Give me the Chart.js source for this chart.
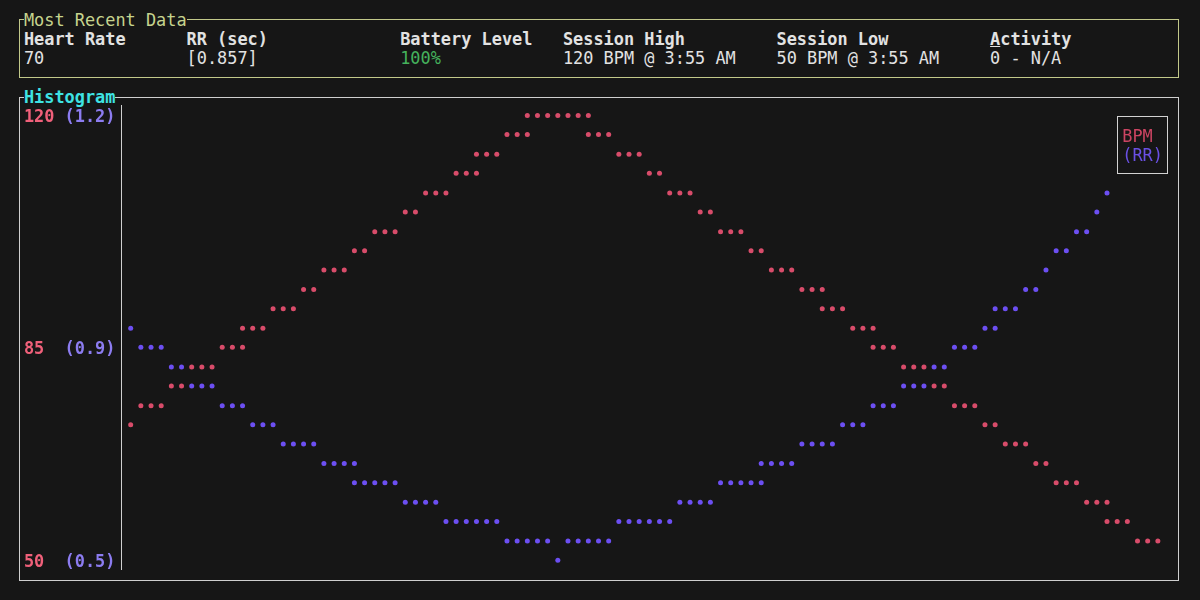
<!DOCTYPE html>
<html>
<head>
<meta charset="utf-8">
<script src="https://cdn.jsdelivr.net/npm/chart.js@4.4.1/dist/chart.umd.min.js"></script>
<style>
html,body{margin:0;padding:0;background:#161616;}
body{width:1200px;height:600px;position:relative;overflow:hidden;font-family:"DejaVu Sans Mono",monospace;font-size:16.9px;color:#e2e2e2;}
.t{position:absolute;line-height:19.33px;height:19.33px;white-space:pre;}
.b{font-weight:bold;}
.box{position:absolute;box-sizing:border-box;}
#topbox{left:19px;top:19px;width:1160px;height:59px;border:1px solid #c2c98a;}
#histbox{left:19px;top:97px;width:1160px;height:484px;border:1px solid #cfcfcf;}
#chart{position:absolute;left:0;top:0;}
#legend{position:absolute;box-sizing:border-box;border:1px solid #d2d2d2;}
</style>
</head>
<body>
<div class="box" id="topbox"></div>
<div class="box" id="histbox"></div>
<div class="t" style="left:23.9px;top:10.7px;color:#c6d48e;background:#161616;">Most Recent Data</div>
<div class="t b" style="left:23.9px;top:88.1px;color:#3ee3e3;background:#161616;">Histogram</div>

<div class="t b" style="left:23.9px;top:30.1px;">Heart Rate</div>
<div class="t b" style="left:186.6px;top:30.1px;">RR (sec)</div>
<div class="t b" style="left:400.2px;top:30.1px;">Battery Level</div>
<div class="t b" style="left:562.9px;top:30.1px;">Session High</div>
<div class="t b" style="left:776.5px;top:30.1px;">Session Low</div>
<div class="t b" style="left:990.1px;top:30.1px;"><u>A</u>ctivity</div>

<div class="t" style="left:23.9px;top:49.4px;">70</div>
<div class="t" style="left:186.6px;top:49.4px;">[0.857]</div>
<div class="t" style="left:400.2px;top:49.4px;color:#45b25c;">100%</div>
<div class="t" style="left:562.9px;top:49.4px;">120 BPM @ 3:55 AM</div>
<div class="t" style="left:776.5px;top:49.4px;">50 BPM @ 3:55 AM</div>
<div class="t" style="left:990.1px;top:49.4px;">0 - N/A</div>

<canvas id="chart" width="1200" height="600"></canvas>
<div id="legend"></div>

<script>
// ---- data (sample index, value) ----
const seriesNames = ["BPM", "(RR)"];

const bpmIndex = [
  0,
  1, 2, 3,
  4, 5,
  6, 7, 8,
  9, 10, 11,
  11, 12, 13,
  14, 15, 16,
  17, 18,
  19, 20, 21,
  22, 23,
  24, 25, 26,
  27, 28,
  29, 30, 31,
  32, 33, 34,
  34, 35, 36,
  37, 38, 39,
  39, 40, 41, 42, 43, 44, 45,
  45, 46, 47,
  48, 49, 50,
  51, 52,
  53, 54, 55,
  56, 57,
  58, 59, 60,
  61, 62,
  63, 64, 65,
  66, 67, 68,
  68, 69, 70,
  71, 72, 73,
  73, 74, 75,
  76, 77, 78,
  79, 80,
  81, 82, 83,
  84, 85,
  86, 87, 88,
  89, 90,
  91, 92, 93,
  94, 95, 96,
  96, 97, 98,
  99, 100, 101
];
const bpmValues = [
  71.3,
  74.3, 74.3, 74.3,
  77.4, 77.4,
  80.4, 80.4, 80.4,
  83.5, 83.5, 83.5,
  86.5, 86.5, 86.5,
  89.6, 89.6, 89.6,
  92.6, 92.6,
  95.7, 95.7, 95.7,
  98.7, 98.7,
  101.7, 101.7, 101.7,
  104.8, 104.8,
  107.8, 107.8, 107.8,
  110.9, 110.9, 110.9,
  113.9, 113.9, 113.9,
  117.0, 117.0, 117.0,
  120, 120, 120, 120, 120, 120, 120,
  117.0, 117.0, 117.0,
  113.9, 113.9, 113.9,
  110.9, 110.9,
  107.8, 107.8, 107.8,
  104.8, 104.8,
  101.7, 101.7, 101.7,
  98.7, 98.7,
  95.7, 95.7, 95.7,
  92.6, 92.6, 92.6,
  89.6, 89.6, 89.6,
  86.5, 86.5, 86.5,
  83.5, 83.5, 83.5,
  80.4, 80.4, 80.4,
  77.4, 77.4,
  74.3, 74.3, 74.3,
  71.3, 71.3,
  68.3, 68.3, 68.3,
  65.2, 65.2,
  62.2, 62.2, 62.2,
  59.1, 59.1, 59.1,
  56.1, 56.1, 56.1,
  53.0, 53.0, 53.0
];

const rrIndex = [
  0,
  1, 2, 3,
  4, 5,
  6, 7, 8,
  9, 10, 11,
  12, 13, 14,
  15, 16, 17, 18,
  19, 20, 21, 22,
  22, 23, 24, 25, 26,
  27, 28, 29, 30,
  31, 32, 33, 34, 35, 36,
  37, 38, 39, 40, 41,
  42,
  43, 44, 45, 46, 47,
  48, 49, 50, 51, 52, 53,
  54, 55, 56, 57,
  58, 59, 60, 61, 62,
  62, 63, 64, 65,
  66, 67, 68, 69,
  70, 71, 72,
  73, 74, 75,
  76, 77, 78,
  79, 80,
  81, 82, 83,
  84, 85,
  85, 86, 87,
  88, 89,
  90,
  91, 92,
  93, 94,
  95,
  96
];
const rrValues = [
  0.865,
  0.835, 0.835, 0.835,
  0.804, 0.804,
  0.774, 0.774, 0.774,
  0.743, 0.743, 0.743,
  0.713, 0.713, 0.713,
  0.683, 0.683, 0.683, 0.683,
  0.652, 0.652, 0.652, 0.652,
  0.622, 0.622, 0.622, 0.622, 0.622,
  0.591, 0.591, 0.591, 0.591,
  0.561, 0.561, 0.561, 0.561, 0.561, 0.561,
  0.530, 0.530, 0.530, 0.530, 0.530,
  0.500,
  0.530, 0.530, 0.530, 0.530, 0.530,
  0.561, 0.561, 0.561, 0.561, 0.561, 0.561,
  0.591, 0.591, 0.591, 0.591,
  0.622, 0.622, 0.622, 0.622, 0.622,
  0.652, 0.652, 0.652, 0.652,
  0.683, 0.683, 0.683, 0.683,
  0.713, 0.713, 0.713,
  0.743, 0.743, 0.743,
  0.774, 0.774, 0.774,
  0.804, 0.804,
  0.835, 0.835, 0.835,
  0.865, 0.865,
  0.896, 0.896, 0.896,
  0.926, 0.926,
  0.957,
  0.987, 0.987,
  1.017, 1.017,
  1.048,
  1.078
];

const bpmTickLabels = ["120", "85", "50"];
const rrTickLabels = ["(1.2)", "(0.9)", "(0.5)"];
const bpmRange = [50, 120];
const rrRange = [0.5, 1.2];

// ---- layout (terminal character grid) ----
const ROWS = 24;                 // text rows in plot
const CELL_W = 10.17;
const LEFT0 = 23.9;              // first text column
const ROW0 = 115.55;             // centre of first plot row
const ROW_H = 19.33;
const TEXT_SHIFT = 1.5;

function halfRowPad(range){ return (range[1]-range[0])/(ROWS-1)/2; }
function rowValue(range,row){ return range[1] - (range[1]-range[0])*row/(ROWS-1); }

const bpmPad = halfRowPad(bpmRange), rrPad = halfRowPad(rrRange);
const tickRows = [0, 12, 23];

const mono = {family: "'DejaVu Sans Mono', monospace", size: 16.9, weight: 'bold'};

const chart = new Chart(document.getElementById('chart').getContext('2d'), {
  type: 'scatter',
  data: {
    datasets: [
      {
        label: seriesNames[0],
        data: bpmIndex.map((x, i) => ({x: x, y: bpmValues[i]})),
        yAxisID: 'yBpm',
        backgroundColor: '#d84c6a',
        borderWidth: 0,
        pointRadius: 2.5,
        pointHoverRadius: 2.5
      },
      {
        label: seriesNames[1],
        data: rrIndex.map((x, i) => ({x: x, y: rrValues[i]})),
        yAxisID: 'yRr',
        backgroundColor: '#6c4ff2',
        borderWidth: 0,
        pointRadius: 2.5,
        pointHoverRadius: 2.5
      }
    ]
  },
  options: {
    responsive: false,
    animation: false,
    devicePixelRatio: 1,
    events: [],
    layout: {padding: {left: LEFT0, top: ROW0 - ROW_H/2, right: 22, bottom: 600 - (ROW0 + ROW_H*(ROWS-1) + ROW_H/2)}},
    plugins: {legend: {display: false}, tooltip: {enabled: false}},
    scales: {
      x: {type: 'linear', display: false, min: -0.9523, max: 102.981},
      yBpm: {
        type: 'linear', position: 'left', weight: 2,
        min: bpmRange[0] - bpmPad, max: bpmRange[1] + bpmPad,
        grid: {display: false, drawTicks: false},
        border: {display: false},
        afterBuildTicks: s => { s.ticks = tickRows.map(r => ({value: rowValue(bpmRange, r)})); },
        afterFit: s => { s.width = CELL_W * 4; },
        ticks: {crossAlign: 'far', color: '#f0607a', font: mono, autoSkip: false, labelOffset: 2,
                callback: (v, i) => bpmTickLabels[i]}
      },
      yRr: {
        type: 'linear', position: 'left', weight: 1,
        min: rrRange[0] - rrPad, max: rrRange[1] + rrPad,
        grid: {display: false, drawTicks: false},
        border: {display: true, color: '#cfcfcf', width: 1},
        afterBuildTicks: s => { s.ticks = tickRows.map(r => ({value: rowValue(rrRange, r)})); },
        afterFit: s => { s.width = 121 - LEFT0 - CELL_W * 4; },
        ticks: {crossAlign: 'far', color: '#8c7cf0', font: mono, autoSkip: false, labelOffset: 2,
                callback: (v, i) => rrTickLabels[i]}
      }
    }
  }
});

// ---- legend box (terminal style, from dataset labels) ----
const legendColors = ['#cc4462', '#6a50e4'];
const lg = document.getElementById('legend');
const lgLeft = LEFT0 + CELL_W * 107.5, lgRight = LEFT0 + CELL_W * 112.5;
lg.style.left = lgLeft + 'px';
lg.style.top = ROW0 + 'px';
lg.style.width = (lgRight - lgLeft) + 'px';
lg.style.height = (ROW_H * 3) + 'px';
chart.data.datasets.forEach((ds, i) => {
  const d = document.createElement('div');
  d.className = 't';
  d.textContent = ds.label;
  d.style.color = legendColors[i];
  d.style.left = (LEFT0 + CELL_W * 108) + 'px';
  d.style.top = (ROW0 + ROW_H * (i + 1) - ROW_H / 2 + TEXT_SHIFT) + 'px';
  document.body.appendChild(d);
});
</script>
</body>
</html>
